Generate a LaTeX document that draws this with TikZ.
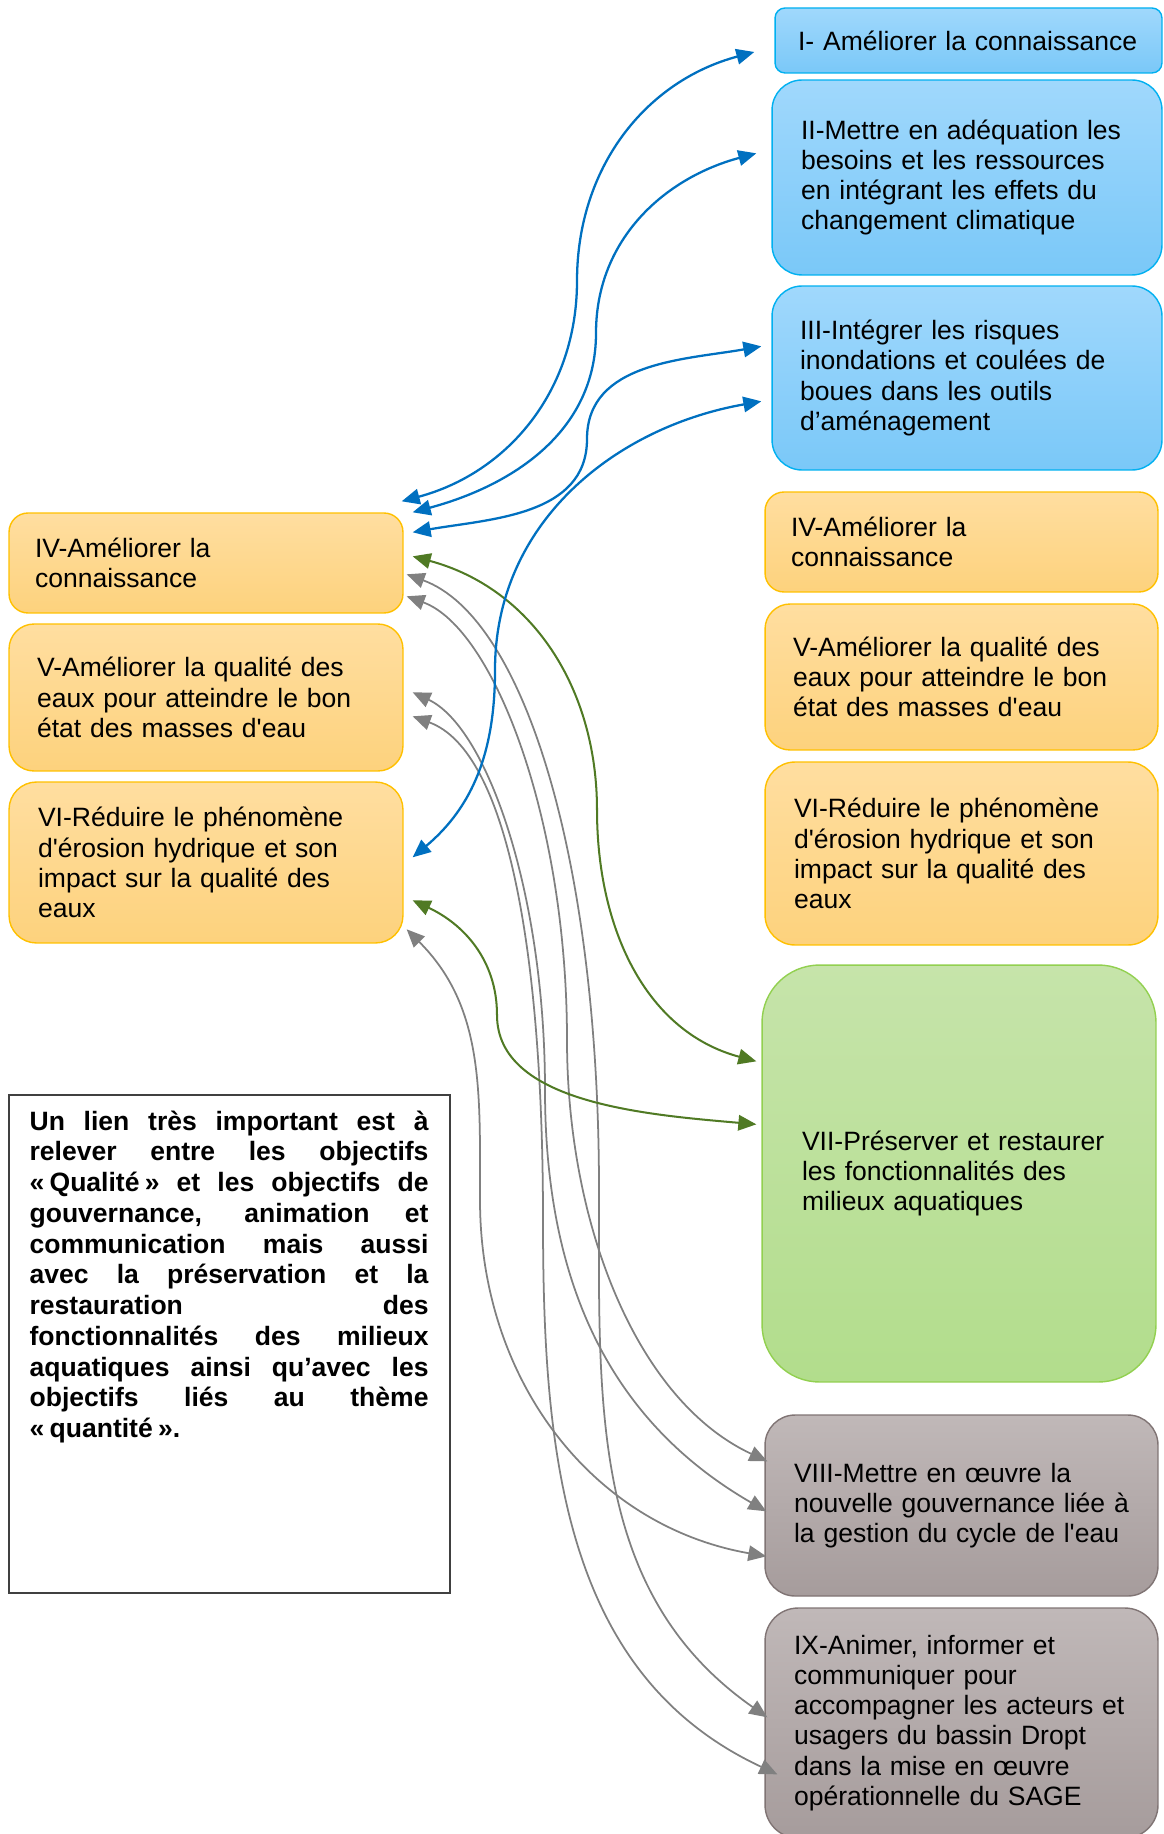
\documentclass[tikz,border=0pt]{standalone}
\usepackage{fontspec}
\setmainfont{Liberation Sans}[Ligatures=TeXOff]
\usetikzlibrary{arrows.meta,calc}

\definecolor{traitBleu}{RGB}{0,112,192}
\definecolor{traitVert}{RGB}{80,122,36}
\definecolor{traitGris}{RGB}{128,128,128}
\definecolor{hautBleu}{RGB}{160,216,252}
\definecolor{basBleu}{RGB}{122,200,248}
\definecolor{bordBleu}{RGB}{0,176,240}
\definecolor{hautOrange}{RGB}{255,222,160}
\definecolor{basOrange}{RGB}{253,210,125}
\definecolor{bordOrange}{RGB}{255,192,0}
\definecolor{hautVert}{RGB}{198,228,170}
\definecolor{basVert}{RGB}{178,221,140}
\definecolor{bordVert}{RGB}{146,208,80}
\definecolor{hautGris}{RGB}{192,184,184}
\definecolor{basGris}{RGB}{166,156,156}
\definecolor{bordGris}{RGB}{128,116,116}

\begin{document}
\begin{tikzpicture}[
        x=0.02cm, y=-0.02cm,
        >={Triangle[length=0.36cm,width=0.31cm]},
        every node/.style={font=\fontsize{15.1}{17.2}\selectfont, inner sep=0pt, align=left},
        objectif/.style={draw, line width=0.8pt, minimum width=7.86cm},
        quantite/.style={objectif, draw=bordBleu, top color=hautBleu, bottom color=basBleu},
        qualite/.style={objectif, draw=bordOrange, top color=hautOrange, bottom color=basOrange},
        milieux/.style={objectif, draw=bordVert, top color=hautVert, bottom color=basVert},
        gouvernance/.style={objectif, draw=bordGris, top color=hautGris, bottom color=basGris},
        cadre/.style={draw=black!75, line width=0.9pt},
        note/.style={text width=7.98cm, align=justify, font=\fontsize{15.1}{17.5}\selectfont\bfseries},
        lienBleu/.style={<->, draw=traitBleu, line width=1.3pt},
        lienVert/.style={<->, draw=traitVert, line width=1.15pt},
        lienGris/.style={<->, draw=traitGris, line width=1.0pt}
    ]

    \useasboundingbox (0,0) rectangle (1163,1834);

    % Objectifs quantite
    \node[quantite, minimum width=7.74cm, minimum height=1.30cm, text width=6.82cm, rounded corners=0.2cm] (I) at (968.5,40.5) {I- Améliorer la connaissance};
    \node[quantite, minimum width=7.80cm, minimum height=3.90cm, text width=6.64cm, rounded corners=0.6cm] (II) at (967,177.5) {II-Mettre en adéquation les\\besoins et les ressources\\en intégrant les effets du\\changement climatique};
    \node[quantite, minimum width=7.80cm, minimum height=3.68cm, text width=6.68cm, rounded corners=0.6cm] (III) at (967,378) {III-Intégrer les risques\\inondations et coulées de\\boues dans les outils\\d’aménagement};

    % Objectifs qualite (droite)
    \node[qualite, minimum height=2.00cm, text width=6.82cm, rounded corners=0.38cm] (IVd) at (961.5,542) {IV-Améliorer la\\connaissance};
    \node[qualite, minimum height=2.92cm, text width=6.74cm, rounded corners=0.5cm] (Vd) at (961.5,677) {V-Améliorer la qualité des\\eaux pour atteindre le bon\\état des masses d'eau};
    \node[qualite, minimum height=3.66cm, text width=6.70cm, rounded corners=0.6cm] (VId) at (961.5,853.5) {VI-Réduire le phénomène\\d'érosion hydrique et son\\impact sur la qualité des\\eaux};

    % Milieux aquatiques
    \node[milieux, minimum width=7.88cm, minimum height=8.34cm, text width=6.28cm, rounded corners=1.15cm] (VII) at (959,1173.5) {VII-Préserver et restaurer\\les fonctionnalités des\\milieux aquatiques};

    % Gouvernance
    \node[gouvernance, minimum height=3.62cm, text width=6.70cm, rounded corners=0.6cm] (VIII) at (961.5,1505.5) {VIII-Mettre en œuvre la\\nouvelle gouvernance liée à\\la gestion du cycle de l'eau};
    \node[gouvernance, minimum height=4.60cm, text width=6.70cm, rounded corners=0.66cm] (IX) at (961.5,1723) {IX-Animer, informer et\\communiquer pour\\accompagner les acteurs et\\usagers du bassin Dropt\\dans la mise en œuvre\\opérationnelle du SAGE};

    % Objectifs qualite (gauche)
    \node[qualite, minimum width=7.88cm, minimum height=2.00cm, text width=6.84cm, rounded corners=0.38cm] (IVg) at (206,563) {IV-Améliorer la\\connaissance};
    \node[qualite, minimum width=7.88cm, minimum height=2.94cm, text width=6.76cm, rounded corners=0.5cm] (Vg) at (206,697.5) {V-Améliorer la qualité des\\eaux pour atteindre le bon\\état des masses d'eau};
    \node[qualite, minimum width=7.88cm, minimum height=3.22cm, text width=6.72cm, rounded corners=0.55cm] (VIg) at (206,862.5) {VI-Réduire le phénomène\\d'érosion hydrique et son\\impact sur la qualité des\\eaux};

    % Remarque
    \node[cadre, minimum width=8.82cm, minimum height=9.96cm] (cadre) at (229.5,1344) {};
    \node[note, anchor=north west] (remarque) at ($(cadre.north west)+(21,16)$) {Un lien très important est à\linebreak relever entre les objectifs\linebreak «\kern0.2em Qualité\kern0.2em» et les objectifs de\linebreak gouvernance, animation et\linebreak communication mais aussi\linebreak avec la préservation et la\linebreak restauration des\linebreak fonctionnalités des milieux\linebreak aquatiques ainsi qu’avec les\linebreak objectifs liés au thème\linebreak «\kern0.2em quantité\kern0.2em».};

    % Liens gris
    \draw[lienGris] ($(IVg.north east)+(3,62)$) to[out=-20,in=90,out looseness=0.5,in looseness=1.3] (599,1190) to[out=-90,in=145] ($(IX.north west)+(3,110)$);
    \draw[lienGris] ($(IVg.north east)+(3,84)$) to[out=-20,in=90,out looseness=0.5,in looseness=1.2] (567,1040) to[out=-90,in=155,in looseness=0.8] ($(VIII.north west)+(3,47)$);
    \draw[lienGris] ($(Vg.north east)+(9,69)$) to[out=-25,in=90,out looseness=0.5,in looseness=1.2] (545,1090) to[out=-90,in=150] ($(VIII.north west)+(2,97)$);
    \draw[lienGris] ($(Vg.north east)+(9,93)$) to[out=-20,in=90,out looseness=0.5,in looseness=1.3] (543,1220) to[out=-90,in=155] ($(IX.north west)+(13,167)$);
    \draw[lienGris] ($(VIg.north east)+(3,148)$) to[out=-45,in=90] (480,1200) to[out=-90,in=170] ($(VIII.north west)+(2,142)$);

    % Liens verts
    \draw[lienVert] ($(IVg.north east)+(9,44)$) to[out=-15,in=90] (597,810) to[out=-90,in=165] ($(VII.north west)+(-5,97)$);
    \draw[lienVert] ($(VIg.north east)+(9,119)$) to[out=-25,in=90] (497,1015) to[out=-90,in=175,out looseness=0.8] ($(VII.north west)+(-5,160)$);

    % Liens bleus
    \draw[lienBleu] ($(IVg.north east)+(-2,-11)$) to[out=15,in=-90] (577,281) to[out=90,in=195] ($(I.west)+(-20,11.5)$);
    \draw[lienBleu] ($(IVg.north east)+(9,0)$) to[out=15,in=-90] (596,333) to[out=90,in=195] ($(II.north west)+(-15,74)$);
    \draw[lienBleu] ($(IVg.north east)+(9,20)$) to[out=10,in=-90] (587,439) to[out=90,in=190] ($(III.north west)+(-10,61)$);
    \draw[lienBleu] ($(VIg.north east)+(9,76)$) to[out=40,in=-90] (495,670) to[out=90,in=190] ($(III.north west)+(-10,116)$);
\end{tikzpicture}
\end{document}
